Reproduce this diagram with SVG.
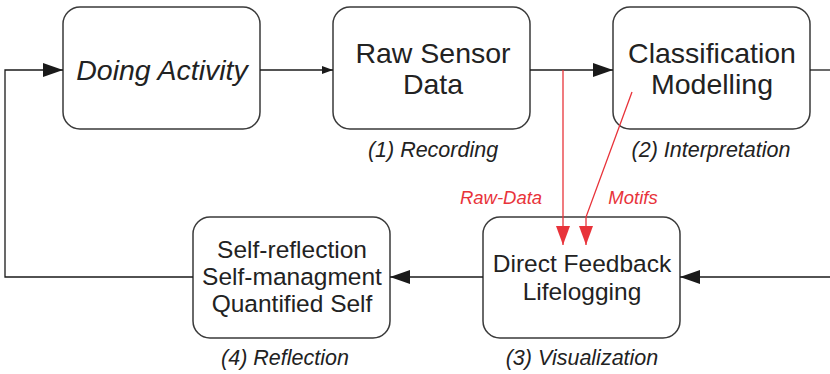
<svg xmlns="http://www.w3.org/2000/svg" width="830" height="374" viewBox="0 0 830 374">
<style>
.box{fill:#fff;stroke:#3a3a3a;stroke-width:1.5}
.t{font-family:"Liberation Sans",Arial,sans-serif;fill:#222;text-anchor:middle}
.big{font-size:28.5px}
.mid{font-size:24.5px}
.cap{font-size:21.5px;font-style:italic}
.red{font-family:"Liberation Sans",Arial,sans-serif;font-size:18.5px;font-style:italic;fill:#e8333a;text-anchor:middle}
.c{fill:none;stroke:#1a1a1a;stroke-width:1.3}
.rc{fill:none;stroke:#e8333a;stroke-width:1.3}
</style>
<defs>
<marker id="ab" markerWidth="20" markerHeight="14" refX="20" refY="7" orient="auto" markerUnits="userSpaceOnUse"><path d="M0,0 L20,7 L0,14 Z" fill="#1a1a1a"/></marker>
<marker id="as" markerWidth="11" markerHeight="8" refX="11" refY="4" orient="auto" markerUnits="userSpaceOnUse"><path d="M0,0 L11,4 L0,8 Z" fill="#1a1a1a"/></marker>
<marker id="ar" markerWidth="19" markerHeight="14" refX="19" refY="7" orient="auto" markerUnits="userSpaceOnUse"><path d="M0,0 L19,7 L0,14 Z" fill="#e8333a"/></marker>
</defs>
<g id="doing">
<rect class="box" x="63" y="7" width="197" height="122" rx="17"/>
<text class="t big" x="162" y="80" font-style="italic">Doing Activity</text>
</g>
<g id="raw">
<rect class="box" x="333" y="7" width="197" height="122" rx="17"/>
<text class="t big" x="433" y="63">Raw Sensor</text>
<text class="t big" x="433" y="94">Data</text>
<text class="t cap" x="433" y="157">(1) Recording</text>
</g>
<g id="classification">
<rect class="box" x="613" y="7" width="197" height="122" rx="17"/>
<text class="t big" x="712" y="63">Classification</text>
<text class="t big" x="712" y="94">Modelling</text>
<text class="t cap" x="711" y="157">(2) Interpretation</text>
</g>
<g id="feedback">
<rect class="box" x="483" y="217" width="197" height="121" rx="17"/>
<text class="t mid" x="582" y="272">Direct Feedback</text>
<text class="t mid" x="582" y="300">Lifelogging</text>
<text class="t cap" x="582" y="365">(3) Visualization</text>
</g>
<g id="reflection">
<rect class="box" x="193" y="217" width="197" height="121" rx="17"/>
<text class="t mid" x="292" y="258">Self-reflection</text>
<text class="t mid" x="292" y="285">Self-managment</text>
<text class="t mid" x="292" y="312">Quantified Self</text>
<text class="t cap" x="285" y="365">(4) Reflection</text>
</g>
<g id="connectors">
<path class="c" d="M193,277 H5 V70 H63" marker-end="url(#ab)"/>
<path class="c" d="M260,70 H333" marker-end="url(#as)"/>
<path class="c" d="M530,70 H613" marker-end="url(#ab)"/>
<path class="c" d="M810,70 H830"/>
<path class="c" d="M830,277 H680" marker-end="url(#ab)"/>
<path class="c" d="M483,277 H390" marker-end="url(#ab)"/>
<path class="rc" d="M563,70 V245" marker-end="url(#ar)"/>
<path class="rc" d="M632,92 L586,217 V245" marker-end="url(#ar)"/>
<text class="red" x="501" y="204">Raw-Data</text>
<text class="red" x="633" y="204">Motifs</text>
</g>
</svg>
